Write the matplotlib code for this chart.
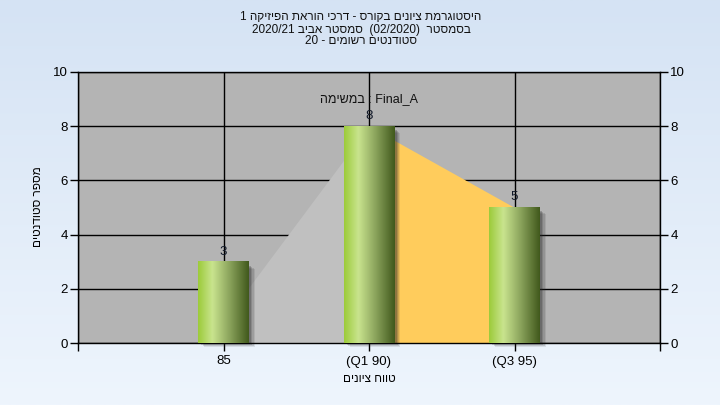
import re
import matplotlib
matplotlib.use("Agg")
import matplotlib.pyplot as plt
import matplotlib.patches as mpatches
import numpy as np
from matplotlib.colors import LinearSegmentedColormap

plt.rcParams.update({
    "font.family": ["Liberation Sans", "DejaVu Sans"],
    "font.size": 9,
})

# data
categories = ["85", "(Q1 90)", "(Q3 95)"]
counts = [3, 8, 5]
gray_x = [0, 1]          # area below Q1
gray_y = [0.8, 8]
orange_x = [1, 2]        # Q1..Q3 area
orange_y = [8, 5]

title_lines = [
    "היסטוגרמת ציונים בקורס - דרכי הוראת הפיזיקה 1",
    "בסמסטר  (02/2020)  סמסטר אביב 2020/21",
    "סטודנטים רשומים - 20",
]
series_label = "Final_A : במשימה"
xlabel = "טווח ציונים"
ylabel = "מספר סטודנטים"


def rtl(s):
    # crude bidi: reverse, keep LTR runs, mirror brackets
    rev = s[::-1]
    rev = re.sub(r"[0-9A-Za-z_/.]+", lambda m: m.group(0)[::-1], rev)
    return rev.translate(str.maketrans("()", ")("))


fig = plt.figure(figsize=(7.2, 4.05), dpi=100)

# background gradient
bg = fig.add_axes([0, 0, 1, 1], zorder=-10)
bg.axis("off")
bg_cmap = LinearSegmentedColormap.from_list("bg", ["#eef5fd", "#d5e3f4"])
bg.imshow(np.linspace(0, 1, 256).reshape(-1, 1), cmap=bg_cmap, aspect="auto",
          extent=[0, 1, 0, 1], origin="lower")
bg.set_xlim(0, 1); bg.set_ylim(0, 1)

ax = fig.add_axes([78 / 720, 62 / 405, 582 / 720, 271 / 405])
ax.set_facecolor("#b4b4b4")
ax.set_xlim(-1, 3)
ax.set_ylim(0, 10)

ax.set_xticks([-1, 0, 1, 2, 3])
ax.set_xticklabels([""] + categories + [""])
ax.set_yticks(range(0, 11, 2))
ax.grid(True, color="black", lw=1, zorder=0)
ax.set_axisbelow(True)
ax.tick_params(axis="both", direction="out", length=6, width=1, color="black",
               labelsize=9.5, pad=1.5)
ax.tick_params(axis="y", right=True, labelright=True)
ax.tick_params(axis="x", pad=3)
for s in ax.spines.values():
    s.set_color("black"); s.set_linewidth(1)

# areas
ax.fill_between(gray_x, gray_y, 0, color="#c0c0c0", lw=0, zorder=1)
ax.fill_between(orange_x, orange_y, 0, color="#ffcc5c", lw=0, zorder=1)

# cylinder-ish bars
bar_cmap = LinearSegmentedColormap.from_list(
    "bar", [(0, "#9ccb3a"), (0.28, "#c9e48e"), (0.6, "#8fa860"), (1, "#41591c")])
grad = np.linspace(0, 1, 128).reshape(1, -1)
w = 0.35
px_x = 4.0 / 582   # data units per pixel
px_y = 10.0 / 271
for i, h in enumerate(counts):
    # soft shadow
    for k, a in enumerate([0.10, 0.14, 0.18, 0.25]):
        off = 6 - k * 1.3
        ax.add_patch(mpatches.Rectangle(
            (i - w / 2 + off * px_x, -(4 - k) * px_y), w, h - 3 * px_y,
            facecolor="#2a2a2a", alpha=a, lw=0, zorder=2, clip_on=False))
    ax.imshow(grad, cmap=bar_cmap, aspect="auto", zorder=3,
              extent=[i - w / 2, i + w / 2, 0, h], interpolation="bicubic")
    ax.text(i, h + 0.15, str(h), ha="center", va="bottom", fontsize=9.5,
            color="#101828", zorder=5)

ax.set_xlim(-1, 3)
ax.set_ylim(0, 10)

ax.text(0.5, 0.9, rtl(series_label), transform=ax.transAxes, ha="center",
        va="center", fontsize=9, color="#111111", zorder=5)

fig.text(38 / 720, 1 - 207 / 405, rtl(ylabel), rotation=90, ha="center",
         va="center", fontsize=8.5)
fig.text(369 / 720, 1 - 379 / 405, rtl(xlabel), ha="center", va="center",
         fontsize=8.5)

for line, y in zip(title_lines, [17.3, 29.7, 41.5]):
    fig.text(361 / 720, 1 - y / 405, rtl(line), ha="center", va="center",
             fontsize=8.5, color="#111111")

fig.savefig("out.png", dpi=100)
